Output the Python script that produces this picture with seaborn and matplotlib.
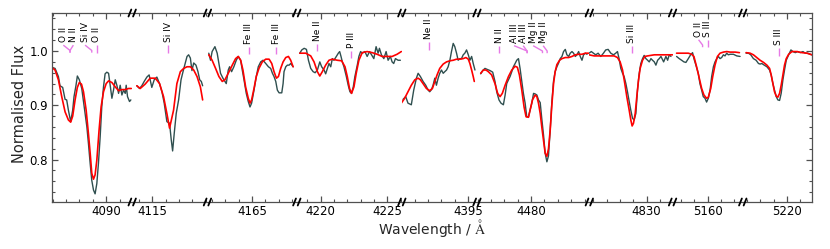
import matplotlib
matplotlib.use("Agg")
import numpy as np
import pandas as pd
import matplotlib.pyplot as plt
import seaborn as sns
from matplotlib.ticker import MultipleLocator, FormatStrFormatter
from matplotlib.lines import Line2D

sns.set_theme(style="ticks")
plt.rcParams['font.family'] = ['DejaVu Sans']
plt.rcParams['mathtext.fontset'] = 'stix'

# ---------------- data ----------------
seg_limits = [(4085.94, 4091.95), (4113.50, 4119.14), (4161.65, 4168.35),
              (4218.21, 4226.08), (4390.05, 4395.68), (4475.94, 4484.36),
              (4825.71, 4831.95), (5157.37, 5162.63), (5216.69, 5221.88)]

s1_obs_w = [4085.92, 4086.17, 4086.42, 4086.54, 4086.74, 4086.92, 4087.04, 4087.17, 4087.34, 4087.49,
            4087.59, 4087.74, 4087.84, 4087.99, 4088.17, 4088.30, 4088.42, 4088.55, 4088.67, 4088.80,
            4088.92, 4089.05, 4089.17, 4089.30, 4089.42, 4089.55, 4089.67, 4089.80, 4089.92, 4090.05,
            4090.18, 4090.30, 4090.43, 4090.55, 4090.68, 4090.80, 4090.93, 4091.05, 4091.18, 4091.30,
            4091.43, 4091.50, 4091.60, 4091.75, 4091.85]
s1_obs_f = [0.970, 0.968, 0.953, 0.936, 0.933, 0.911, 0.910, 0.891, 0.870, 0.891,
            0.916, 0.937, 0.954, 0.947, 0.931, 0.907, 0.885, 0.861, 0.830, 0.793,
            0.762, 0.744, 0.737, 0.756, 0.793, 0.842, 0.897, 0.934, 0.958, 0.961,
            0.959, 0.937, 0.913, 0.928, 0.947, 0.937, 0.922, 0.937, 0.919, 0.928,
            0.922, 0.937, 0.916, 0.907, 0.910]
s1_mod_w = [4085.92, 4086.17, 4086.42, 4086.67, 4086.92, 4087.17, 4087.34, 4087.49, 4087.67, 4087.84,
            4087.99, 4088.15, 4088.30, 4088.50, 4088.67, 4088.80, 4088.92, 4089.05, 4089.17, 4089.30,
            4089.47, 4089.62, 4089.80, 4090.00, 4090.18, 4090.43, 4090.68, 4090.93, 4091.18, 4091.43,
            4091.68, 4091.88]
s1_mod_f = [0.970, 0.965, 0.947, 0.916, 0.888, 0.873, 0.869, 0.880, 0.910, 0.933,
            0.942, 0.939, 0.925, 0.891, 0.848, 0.812, 0.775, 0.764, 0.772, 0.799,
            0.855, 0.897, 0.925, 0.940, 0.945, 0.942, 0.934, 0.927, 0.929, 0.929,
            0.931, 0.931]

s2_obs_w = [4113.85, 4114.05, 4114.22, 4114.40, 4114.60, 4114.77, 4114.97, 4115.15, 4115.35, 4115.55,
            4115.73, 4115.90, 4116.10, 4116.30, 4116.43, 4116.53, 4116.65, 4116.80, 4116.98, 4117.16,
            4117.31, 4117.48, 4117.61, 4117.73, 4117.86, 4117.98, 4118.11, 4118.28, 4118.43, 4118.56,
            4118.68, 4118.78]
s2_obs_f = [0.936, 0.931, 0.936, 0.944, 0.952, 0.956, 0.933, 0.947, 0.952, 0.940,
            0.925, 0.904, 0.870, 0.867, 0.836, 0.816, 0.848, 0.885, 0.910, 0.947,
            0.962, 0.978, 0.990, 0.993, 0.987, 0.964, 0.978, 0.974, 0.962, 0.947,
            0.944, 0.936]
s2_mod_w = [4113.85, 4114.10, 4114.47, 4114.85, 4115.23, 4115.55, 4115.85, 4116.10, 4116.30, 4116.60,
            4116.85, 4117.11, 4117.36, 4117.61, 4117.86, 4118.11, 4118.36, 4118.61, 4118.78]
s2_mod_f = [0.936, 0.931, 0.939, 0.950, 0.950, 0.940, 0.916, 0.885, 0.858, 0.891,
            0.940, 0.962, 0.968, 0.971, 0.971, 0.965, 0.953, 0.934, 0.910]

s3_obs_w = [4161.75, 4161.88, 4162.00, 4162.21, 4162.38, 4162.51, 4162.63, 4162.81, 4162.96, 4163.06,
            4163.21, 4163.31, 4163.46, 4163.63, 4163.81, 4163.96, 4164.14, 4164.26, 4164.39, 4164.56,
            4164.71, 4164.84, 4164.96, 4165.14, 4165.31, 4165.46, 4165.64, 4165.81, 4166.02, 4166.22,
            4166.39, 4166.52, 4166.64, 4166.77, 4166.89, 4167.02, 4167.22, 4167.32, 4167.39, 4167.52,
            4167.64, 4167.77, 4167.89, 4168.07]
s3_obs_f = [0.996, 0.983, 0.999, 1.008, 0.996, 0.977, 0.959, 0.950, 0.944, 0.940,
            0.965, 0.971, 0.962, 0.971, 0.983, 0.990, 0.983, 0.965, 0.947, 0.922,
            0.907, 0.897, 0.904, 0.928, 0.953, 0.971, 0.980, 0.983, 0.977, 0.971,
            0.968, 0.959, 0.953, 0.944, 0.928, 0.923, 0.923, 0.940, 0.962, 0.971,
            0.974, 0.974, 0.977, 0.971]
s3_mod_w = [4161.75, 4162.00, 4162.26, 4162.51, 4162.76, 4162.96, 4163.21, 4163.51, 4163.76, 4163.96,
            4164.14, 4164.31, 4164.51, 4164.71, 4164.84, 4164.96, 4165.14, 4165.31, 4165.51, 4165.76,
            4166.02, 4166.27, 4166.47, 4166.64, 4166.82, 4166.97, 4167.14, 4167.32, 4167.52, 4167.72,
            4167.89, 4168.07]
s3_mod_f = [0.993, 0.983, 0.968, 0.953, 0.944, 0.947, 0.959, 0.974, 0.986, 0.990,
            0.983, 0.965, 0.934, 0.913, 0.904, 0.910, 0.931, 0.953, 0.968, 0.980,
            0.985, 0.985, 0.977, 0.962, 0.950, 0.953, 0.968, 0.980, 0.988, 0.990,
            0.983, 0.971]

s4_obs_w = [4218.43, 4218.58, 4218.76, 4218.93, 4219.08, 4219.25, 4219.43, 4219.58, 4219.75, 4219.93,
            4220.07, 4220.25, 4220.37, 4220.50, 4220.62, 4220.75, 4220.87, 4220.99, 4221.17, 4221.32,
            4221.42, 4221.52, 4221.62, 4221.74, 4221.92, 4222.06, 4222.19, 4222.31, 4222.44, 4222.56,
            4222.74, 4222.86, 4222.99, 4223.11, 4223.31, 4223.48, 4223.66, 4223.81, 4223.98, 4224.15,
            4224.30, 4224.40, 4224.55, 4224.73, 4224.90, 4225.05, 4225.22, 4225.35, 4225.47, 4225.60,
            4225.80, 4225.97]
s4_obs_f = [0.996, 1.002, 1.005, 1.003, 0.983, 0.968, 0.962, 0.960, 0.965, 0.980,
            0.971, 0.965, 0.958, 0.968, 0.977, 0.971, 0.986, 0.983, 0.990, 0.996,
            0.999, 0.990, 0.980, 0.971, 0.953, 0.937, 0.925, 0.922, 0.934, 0.953,
            0.974, 0.990, 0.999, 0.996, 0.999, 0.990, 0.999, 0.993, 0.986, 1.008,
            0.996, 1.005, 0.993, 0.986, 0.999, 0.983, 0.990, 0.980, 0.977, 0.986,
            0.983, 0.983]
s4_mod_w = [4218.43, 4218.88, 4219.25, 4219.50, 4219.75, 4219.93, 4220.12, 4220.37, 4220.62, 4220.87,
            4221.24, 4221.57, 4221.82, 4221.99, 4222.16, 4222.31, 4222.49, 4222.66, 4222.86, 4223.11,
            4223.48, 4223.86, 4224.23, 4224.60, 4224.98, 4225.35, 4225.72, 4226.04]
s4_mod_f = [0.996, 0.996, 0.991, 0.980, 0.962, 0.954, 0.962, 0.974, 0.983, 0.985,
            0.983, 0.982, 0.971, 0.953, 0.931, 0.922, 0.934, 0.959, 0.983, 0.997,
            0.999, 0.997, 0.994, 0.990, 0.990, 0.990, 0.994, 0.999]

s5_obs_w = [4390.14, 4390.34, 4390.51, 4390.76, 4390.94, 4391.14, 4391.27, 4391.44, 4391.64, 4391.84,
            4392.02, 4392.14, 4392.27, 4392.39, 4392.52, 4392.64, 4392.77, 4392.89, 4393.02, 4393.15,
            4393.27, 4393.40, 4393.52, 4393.65, 4393.77, 4393.90, 4394.02, 4394.15, 4394.27, 4394.40,
            4394.52, 4394.65, 4394.77, 4394.90, 4395.03, 4395.15, 4395.28, 4395.40, 4395.53]
s5_obs_f = [0.911, 0.916, 0.904, 0.901, 0.928, 0.950, 0.959, 0.953, 0.944, 0.937,
            0.928, 0.925, 0.929, 0.937, 0.950, 0.937, 0.950, 0.959, 0.965, 0.959,
            0.962, 0.965, 0.971, 0.983, 0.999, 1.014, 1.008, 0.996, 0.983, 0.986,
            0.986, 0.993, 0.996, 1.002, 0.993, 0.983, 0.990, 0.977, 0.965]
s5_mod_w = [4390.01, 4390.26, 4390.51, 4390.76, 4391.02, 4391.27, 4391.44, 4391.64, 4391.89, 4392.14,
            4392.34, 4392.52, 4392.69, 4392.89, 4393.15, 4393.40, 4393.65, 4393.90, 4394.15, 4394.40,
            4394.65, 4394.85, 4395.03, 4395.15, 4395.28, 4395.40, 4395.48]
s5_mod_f = [0.904, 0.913, 0.925, 0.937, 0.947, 0.950, 0.947, 0.940, 0.931, 0.927,
            0.931, 0.944, 0.956, 0.968, 0.976, 0.980, 0.982, 0.983, 0.985, 0.985,
            0.986, 0.988, 0.985, 0.977, 0.965, 0.953, 0.944]

s6_obs_w = [4476.22, 4476.37, 4476.54, 4476.72, 4476.92, 4477.12, 4477.29, 4477.42, 4477.59, 4477.74,
            4477.92, 4478.05, 4478.17, 4478.30, 4478.42, 4478.55, 4478.67, 4478.80, 4478.92, 4479.05,
            4479.17, 4479.30, 4479.42, 4479.55, 4479.67, 4479.80, 4479.92, 4480.05, 4480.18, 4480.30,
            4480.43, 4480.55, 4480.68, 4480.80, 4480.93, 4481.05, 4481.18, 4481.30, 4481.43, 4481.55,
            4481.68, 4481.80, 4481.93, 4482.06, 4482.18, 4482.31, 4482.43, 4482.56, 4482.68, 4482.81,
            4482.93, 4483.06, 4483.18, 4483.31, 4483.43, 4483.56, 4483.68, 4483.81, 4483.93, 4484.06,
            4484.19]
s6_obs_f = [0.958, 0.964, 0.968, 0.966, 0.964, 0.961, 0.944, 0.925, 0.910, 0.904,
            0.901, 0.919, 0.940, 0.947, 0.953, 0.962, 0.971, 0.977, 0.983, 0.986,
            0.968, 0.944, 0.922, 0.904, 0.879, 0.879, 0.891, 0.904, 0.922, 0.921,
            0.919, 0.910, 0.905, 0.875, 0.845, 0.812, 0.796, 0.807, 0.855, 0.905,
            0.945, 0.962, 0.971, 0.978, 0.986, 0.990, 0.999, 1.003, 0.993, 0.990,
            0.996, 0.999, 0.996, 0.990, 0.993, 0.999, 0.990, 0.983, 0.993, 0.996,
            0.994]
s6_mod_w = [4476.22, 4476.42, 4476.62, 4476.79, 4477.04, 4477.29, 4477.49, 4477.67, 4477.84, 4478.05,
            4478.30, 4478.55, 4478.80, 4478.97, 4479.12, 4479.30, 4479.47, 4479.62, 4479.80, 4479.92,
            4480.10, 4480.30, 4480.43, 4480.55, 4480.68, 4480.80, 4480.93, 4481.05, 4481.18, 4481.30,
            4481.43, 4481.55, 4481.68, 4481.80, 4481.93, 4482.13, 4482.31, 4482.56, 4482.81, 4483.06,
            4483.31, 4483.56, 4483.81, 4484.06, 4484.31]
s6_mod_f = [0.959, 0.965, 0.965, 0.962, 0.956, 0.940, 0.922, 0.916, 0.922, 0.937,
            0.953, 0.965, 0.972, 0.970, 0.956, 0.928, 0.897, 0.879, 0.878, 0.891,
            0.910, 0.919, 0.916, 0.904, 0.885, 0.860, 0.835, 0.812, 0.806, 0.820,
            0.855, 0.900, 0.940, 0.962, 0.975, 0.983, 0.986, 0.988, 0.988, 0.990,
            0.993, 0.994, 0.994, 0.996, 0.996]

s7_obs_w = [4825.69, 4825.86, 4826.02, 4826.19, 4826.37, 4826.57, 4826.77, 4826.94, 4827.12, 4827.32,
            4827.52, 4827.69, 4827.82, 4827.94, 4828.07, 4828.20, 4828.32, 4828.45, 4828.57, 4828.70,
            4828.82, 4828.95, 4829.07, 4829.20, 4829.32, 4829.45, 4829.57, 4829.70, 4829.82, 4829.95,
            4830.08, 4830.20, 4830.33, 4830.45, 4830.58, 4830.70, 4830.83, 4830.95, 4831.08, 4831.28,
            4831.45, 4831.58, 4831.70, 4831.83]
s7_obs_f = [0.996, 0.999, 0.996, 0.993, 0.996, 0.990, 0.996, 1.002, 1.003, 0.996,
            0.993, 0.996, 0.999, 0.986, 0.968, 0.959, 0.953, 0.940, 0.925, 0.907,
            0.891, 0.876, 0.873, 0.885, 0.928, 0.959, 0.977, 0.986, 0.992, 0.986,
            0.983, 0.980, 0.986, 0.983, 0.980, 0.974, 0.983, 0.986, 0.990, 0.980,
            0.990, 0.983, 0.993, 0.990]
s7_mod_w = [4825.69, 4826.07, 4826.57, 4827.07, 4827.57, 4827.82, 4828.02, 4828.20, 4828.37, 4828.52,
            4828.70, 4828.82, 4828.92, 4829.02, 4829.15, 4829.27, 4829.40, 4829.52, 4829.70, 4829.87,
            4830.08, 4830.58, 4831.08, 4831.58, 4831.95]
s7_mod_f = [0.993, 0.991, 0.991, 0.991, 0.991, 0.988, 0.980, 0.965, 0.940, 0.916,
            0.891, 0.873, 0.862, 0.867, 0.885, 0.916, 0.947, 0.968, 0.983, 0.990,
            0.991, 0.993, 0.993, 0.993, 0.993]

s8_obs_w = [5157.67, 5157.87, 5158.05, 5158.22, 5158.37, 5158.55, 5158.72, 5158.87, 5158.97, 5159.12,
            5159.30, 5159.42, 5159.55, 5159.67, 5159.80, 5159.92, 5160.05, 5160.18, 5160.30, 5160.43,
            5160.55, 5160.68, 5160.80, 5160.93, 5161.05, 5161.18, 5161.30, 5161.43, 5161.55, 5161.68,
            5161.93, 5162.18, 5162.43]
s8_obs_f = [0.990, 0.986, 0.983, 0.980, 0.979, 0.986, 0.993, 0.997, 0.986, 0.974,
            0.959, 0.940, 0.928, 0.916, 0.913, 0.906, 0.913, 0.928, 0.953, 0.971,
            0.980, 0.986, 0.990, 0.986, 0.988, 0.993, 0.991, 0.996, 0.993, 0.994,
            0.994, 0.991, 0.990]
s8_mod_w = [5157.67, 5158.17, 5158.55, 5158.80, 5158.97, 5159.17, 5159.37, 5159.55, 5159.72, 5159.92,
            5160.05, 5160.23, 5160.38, 5160.55, 5160.73, 5160.93, 5161.18, 5161.43, 5161.68, 5162.06,
            5162.38]
s8_mod_f = [0.996, 0.996, 0.996, 0.994, 0.990, 0.971, 0.950, 0.931, 0.919, 0.913,
            0.915, 0.931, 0.953, 0.974, 0.990, 0.996, 0.998, 0.999, 0.998, 0.998,
            0.997]

s9_obs_w = [5216.94, 5217.12, 5217.29, 5217.49, 5217.69, 5217.87, 5217.99, 5218.12, 5218.30, 5218.50,
            5218.70, 5218.82, 5218.95, 5219.07, 5219.20, 5219.32, 5219.45, 5219.57, 5219.70, 5219.82,
            5219.95, 5220.13, 5220.30, 5220.45, 5220.63, 5220.80, 5221.00, 5221.20, 5221.38, 5221.55,
            5221.75, 5221.88]
s9_obs_f = [0.996, 0.996, 0.993, 0.986, 0.983, 0.977, 0.976, 0.977, 0.974, 0.971,
            0.965, 0.956, 0.940, 0.928, 0.916, 0.910, 0.909, 0.922, 0.947, 0.965,
            0.983, 0.993, 1.002, 0.999, 0.997, 0.999, 0.997, 0.999, 0.996, 0.996,
            0.994, 0.993]
s9_mod_w = [5216.94, 5217.24, 5217.49, 5217.74, 5217.99, 5218.25, 5218.50, 5218.70, 5218.82, 5218.95,
            5219.07, 5219.20, 5219.32, 5219.45, 5219.57, 5219.70, 5219.82, 5219.95, 5220.13, 5220.38,
            5220.75, 5221.13, 5221.50, 5221.75, 5221.88]
s9_mod_f = [0.997, 0.996, 0.993, 0.988, 0.983, 0.979, 0.974, 0.968, 0.956, 0.940,
            0.925, 0.917, 0.915, 0.922, 0.937, 0.956, 0.974, 0.986, 0.994, 0.999,
            0.999, 0.997, 0.996, 0.994, 0.993]

observed = [(s1_obs_w, s1_obs_f), (s2_obs_w, s2_obs_f), (s3_obs_w, s3_obs_f),
            (s4_obs_w, s4_obs_f), (s5_obs_w, s5_obs_f), (s6_obs_w, s6_obs_f),
            (s7_obs_w, s7_obs_f), (s8_obs_w, s8_obs_f), (s9_obs_w, s9_obs_f)]
model = [(s1_mod_w, s1_mod_f), (s2_mod_w, s2_mod_f), (s3_mod_w, s3_mod_f),
         (s4_mod_w, s4_mod_f), (s5_mod_w, s5_mod_f), (s6_mod_w, s6_mod_f),
         (s7_mod_w, s7_mod_f), (s8_mod_w, s8_mod_f), (s9_mod_w, s9_mod_f)]

# line identifications: segment, ion, label wavelength, line wavelength, flux at marker foot
line_seg = [0, 0, 0, 0, 1, 2, 2, 3, 3, 4, 5, 5, 5, 5, 5, 6, 7, 7, 8]
line_ion = ["O II", "N II", "Si IV", "O II", "Si IV", "Fe III", "Fe III", "Ne II", "P III",
            "Ne II", "N II", "Al III", "Al III", "Mg II", "Mg II", "Si III", "O II", "S III", "S III"]
line_lab = [4086.79, 4087.54, 4088.42, 4089.30, 4116.20, 4164.73, 4166.80, 4219.74, 4222.30,
            4392.05, 4477.60, 4478.72, 4479.40, 4480.15, 4480.90, 4828.90, 5159.32, 5160.00, 5219.40]
line_wav = [4087.29, 4087.29, 4088.92, 4089.30, 4116.20, 4164.73, 4166.80, 4219.74, 4222.30,
            4392.05, 4477.60, 4479.70, 4479.70, 4480.85, 4481.20, 4828.90, 5159.62, 5160.00, 5219.40]
line_foot = [0.997, 0.997, 0.997, 0.997, 0.997, 0.994, 0.994, 1.000, 0.987,
             1.002, 0.996, 0.996, 0.996, 0.996, 0.996, 0.996, 1.007, 1.007, 0.991]

# ---------------- figure ----------------
W, H = 830, 249
fig = plt.figure(figsize=(W / 100, H / 100), dpi=100)
spans = [b - a for a, b in seg_limits]
gs = fig.add_gridspec(1, len(seg_limits), left=52 / W, right=812 / W,
                      top=1 - 13 / H, bottom=1 - 202 / H, wspace=0, width_ratios=spans)

frame_col = '#505050'
obs_col = '#2f4f4f'
mod_col = '#ff0000'
mark_col = '#e67ae6'
ylim = (0.722, 1.070)
axes = []
n = len(seg_limits)
for i in range(n):
    ax = fig.add_subplot(gs[0, i])
    axes.append(ax)
    ow, of = observed[i]
    mw, mf = model[i]
    sns.lineplot(x=ow, y=of, ax=ax, color=obs_col, lw=1.0, estimator=None, sort=False)
    sns.lineplot(x=mw, y=mf, ax=ax, color=mod_col, lw=1.2, estimator=None, sort=False)
    ax.set_xlim(*seg_limits[i])
    ax.set_ylim(*ylim)
    ax.set_xlabel('')
    ax.set_ylabel('')
    ax.set_facecolor('white')
    for s in ax.spines.values():
        s.set_color(frame_col)
        s.set_linewidth(0.9)
    if i > 0:
        ax.spines['left'].set_visible(False)
    if i < n - 1:
        ax.spines['right'].set_visible(False)
    ax.xaxis.set_major_locator(MultipleLocator(5))
    ax.xaxis.set_minor_locator(MultipleLocator(1))
    ax.xaxis.set_major_formatter(FormatStrFormatter('%d'))
    ax.yaxis.set_major_locator(MultipleLocator(0.1))
    ax.yaxis.set_minor_locator(MultipleLocator(0.02))
    ax.yaxis.set_major_formatter(FormatStrFormatter('%.1f'))
    ax.tick_params(axis='x', which='both', direction='in', top=True, bottom=True,
                   color=frame_col, labelsize=8.5, labelcolor='black', pad=2.5)
    ax.tick_params(axis='x', which='major', length=4, width=0.9)
    ax.tick_params(axis='x', which='minor', length=2.5, width=0.8)
    ax.tick_params(axis='y', which='both', direction='in', left=(i == 0), right=(i == n - 1),
                   labelleft=(i == 0), labelright=False, color=frame_col,
                   labelsize=8.5, labelcolor='black', pad=3)
    ax.tick_params(axis='y', which='major', length=4, width=0.9)
    ax.tick_params(axis='y', which='minor', length=2.5, width=0.8)

# line identifications
seg_len = 0.0138
for s, ion, lab, wav, foot in zip(line_seg, line_ion, line_lab, line_wav, line_foot):
    ax = axes[s]
    top = foot + seg_len
    ax.plot([lab, wav, wav], [top, foot + 0.004, foot], color=mark_col, lw=1.0,
            solid_capstyle='butt')
    ax.text(lab, top + 0.0055, ion, rotation=90, ha='center', va='bottom',
            fontsize=6.5, color='black')

# break marks
fig.canvas.draw()
for ax in axes[:-1]:
    xb = ax.get_position().x1 * W
    for yb in (13, 202):
        for off in (-2.3, 2.3):
            x0, x1 = xb + off - 1.4, xb + off + 1.4
            y0, y1 = H - (yb + 3.5), H - (yb - 3.5)
            fig.add_artist(Line2D([x0 / W, x1 / W], [y0 / H, y1 / H], color='black',
                                  lw=1.3, transform=fig.transFigure, clip_on=False))

fig.text(432 / W, 1 - 228 / H, r'Wavelength / $\mathrm{\AA}$', ha='center', va='center',
         fontsize=10)
fig.text(20 / W, 1 - 104 / H, 'Normalised Flux', ha='center', va='center',
         rotation=90, fontsize=10.5)

fig.savefig('out.png', dpi=100, facecolor='white')
